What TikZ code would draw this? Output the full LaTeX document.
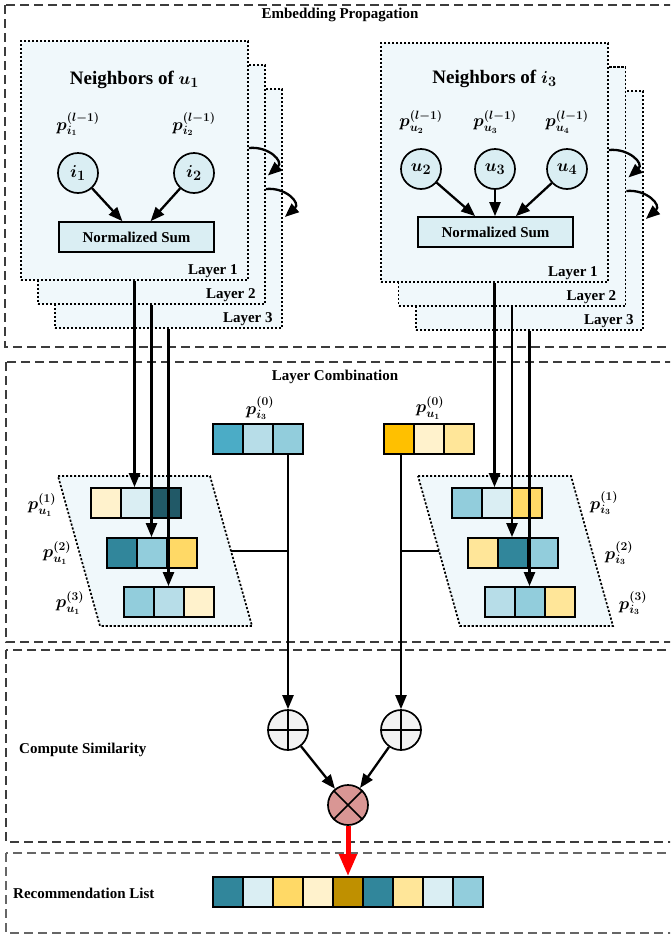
\documentclass[tikz,border=0pt]{standalone}
\usepackage{fontspec}
\setmainfont{Liberation Serif}
\usetikzlibrary{arrows.meta,calc}

\definecolor{panelbg}{RGB}{240,248,251}
\definecolor{nodebg}{RGB}{218,238,243}
\definecolor{tealD}{RGB}{33,89,103}
\definecolor{tealM}{RGB}{49,134,155}
\definecolor{blueM}{RGB}{75,172,198}
\definecolor{blueL}{RGB}{146,205,220}
\definecolor{blueP}{RGB}{183,221,232}
\definecolor{blueX}{RGB}{218,238,243}
\definecolor{goldD}{RGB}{191,144,0}
\definecolor{goldM}{RGB}{255,192,0}
\definecolor{yelM}{RGB}{255,217,102}
\definecolor{yelL}{RGB}{255,230,153}
\definecolor{yelP}{RGB}{255,242,204}
\definecolor{plusbg}{RGB}{242,242,242}
\definecolor{timesbg}{RGB}{217,150,148}
\definecolor{framegray}{RGB}{60,60,60}

\begin{document}
\begin{tikzpicture}[x=1pt,y=-1pt,
  lbl/.style={font=\bfseries\boldmath\fontsize{15}{17}\selectfont, inner sep=0pt},
  plbl/.style={font=\bfseries\boldmath\fontsize{17}{19}\selectfont, inner sep=0pt},
  ttl/.style={font=\bfseries\boldmath\fontsize{19}{21}\selectfont, inner sep=0pt},
  frame/.style={draw=framegray, line width=1.2pt, dash pattern=on 9pt off 5pt},
  layerbox/.style={draw, line width=1.7pt, dash pattern=on 2.2pt off 1.8pt, fill=panelbg,
    minimum width=227pt, minimum height=239pt, inner sep=0pt},
  para/.style={draw, line width=1.7pt, dash pattern=on 2.2pt off 1.8pt, fill=panelbg},
  nbr/.style={circle, draw, line width=1.7pt, fill=nodebg, minimum size=40pt, inner sep=0pt,
    font=\bfseries\boldmath\fontsize{19}{21}\selectfont},
  sumbox/.style={draw, line width=1.7pt, fill=nodebg, minimum width=155pt, minimum height=30pt,
    inner sep=0pt, font=\bfseries\fontsize{15}{17}\selectfont},
  cell/.style={draw, line width=1.8pt, minimum size=30pt, inner sep=0pt},
  op/.style={circle, draw, line width=1.7pt, minimum size=40pt, inner sep=0pt},
  conn/.style={line width=2.3pt},
  arr/.style={line width=2.3pt, -{Triangle[length=14pt,width=11pt]}},
  redarr/.style={red, line width=5pt, -{Triangle[length=22pt,width=17pt]}}]

\useasboundingbox (0,0) rectangle (670,940);
\clip (0,0) rectangle (670,940);

% frames of the four stages
\draw[frame] (5,5) rectangle (690,347);
\draw[frame] (6,362) rectangle (690,642);
\draw[frame] (6,650) rectangle (690,842);
\draw[frame, draw=black!60] (6,853) rectangle (690,933);

\node[lbl] (tEP) at (340,15) {Embedding Propagation};
\node[lbl] (tLC) at (335,377) {Layer Combination};
\node[lbl, anchor=west] (tCS) at (19,750) {Compute Similarity};
\node[lbl, anchor=west] (tRL) at (13,893) {Recommendation List};

% layer stacks, user side
\node[layerbox] (lay3L) at (168.5,208.5) {};
\node[layerbox] (lay2L) at (151.5,184.5) {};
\node[layerbox] (lay1L) at (134.5,160.5) {};
\node[lbl, anchor=base east] (n3L) at ($(lay3L.south east)+(-10,-6)$) {Layer 3};
\node[lbl, anchor=base east] (n2L) at ($(lay2L.south east)+(-10,-6)$) {Layer 2};
\node[lbl, anchor=base east] (n1L) at ($(lay1L.south east)+(-11,-6)$) {Layer 1};

\node[ttl] (hL) at (134.5,80) {Neighbors of $u_1$};
\node[plbl] (pi1) at (78,124) {$p_{i_1}^{(l-1)}$};
\node[plbl] (pi2) at (194,124) {$p_{i_2}^{(l-1)}$};
\node[nbr] (i1) at (78,173) {$i_1$};
\node[nbr] (i2) at (194,173) {$i_2$};
\node[sumbox] (sumL) at (136.5,237) {Normalized Sum};
\draw[arr] (i1) -- ($(sumL.north west)!0.41!(sumL.north east)$);
\draw[arr] (i2) -- ($(sumL.north west)!0.59!(sumL.north east)$);

\draw[arr] ($(lay1L.east)+(0,-12.5)$) .. controls +(20,-2) and +(16,-14) .. ($(lay2L.east)+(2,-9)$);
\draw[arr] ($(lay2L.east)+(0,4.5)$) .. controls +(20,-2) and +(16,-14) .. ($(lay3L.east)+(2,8.5)$);

% layer stacks, item side
\node[layerbox] (lay3R) at (529.5,210.5) {};
\node[layerbox] (lay2R) at (512,186.5) {};
\node[layerbox] (lay1R) at (494.5,162.5) {};
\node[lbl, anchor=base east] (n3R) at ($(lay3R.south east)+(-10,-6)$) {Layer 3};
\node[lbl, anchor=base east] (n2R) at ($(lay2R.south east)+(-10,-6)$) {Layer 2};
\node[lbl, anchor=base east] (n1R) at ($(lay1R.south east)+(-11,-6)$) {Layer 1};

\node[ttl] (hR) at (494.5,79) {Neighbors of $i_3$};
\node[plbl] (pu2) at (421,122) {$p_{u_2}^{(l-1)}$};
\node[plbl] (pu3) at (495,122) {$p_{u_3}^{(l-1)}$};
\node[plbl] (pu4) at (567,122) {$p_{u_4}^{(l-1)}$};
\node[nbr] (u2) at (421,169) {$u_2$};
\node[nbr] (u3) at (495,169) {$u_3$};
\node[nbr] (u4) at (567,169) {$u_4$};
\node[sumbox] (sumR) at (495.5,232) {Normalized Sum};
\draw[arr] (u2) -- ($(sumR.north west)!0.37!(sumR.north east)$);
\draw[arr] (u3) -- (sumR.north -| u3);
\draw[arr] (u4) -- ($(sumR.north west)!0.63!(sumR.north east)$);

\draw[arr] ($(lay1R.east)+(0,-12.5)$) .. controls +(20,-2) and +(16,-14) .. ($(lay2R.east)+(2,-9)$);
\draw[arr] ($(lay2R.east)+(0,4.5)$) .. controls +(20,-2) and +(16,-14) .. ($(lay3R.east)+(2,8.5)$);

% layer combination
\draw[para] (58,476) -- (210,476) -- (252,626) -- (100,626) -- cycle;
\draw[para] (418,476) -- (571,476) -- (613,626) -- (460,626) -- cycle;
\coordinate (jL) at (231,551);
\coordinate (jR) at (439,551);

\foreach \c [count=\k] in {yelP,blueX,tealD}
  \node[cell, fill=\c] (L1c\k) at (76+30*\k,503) {};
\foreach \c [count=\k] in {tealM,blueL,yelM}
  \node[cell, fill=\c] (L2c\k) at (92+30*\k,553) {};
\foreach \c [count=\k] in {blueL,blueP,yelP}
  \node[cell, fill=\c] (L3c\k) at (109+30*\k,602) {};
\foreach \c [count=\k] in {blueL,blueX,yelM}
  \node[cell, fill=\c] (R1c\k) at (437+30*\k,503) {};
\foreach \c [count=\k] in {yelL,tealM,blueL}
  \node[cell, fill=\c] (R2c\k) at (453+30*\k,553) {};
\foreach \c [count=\k] in {blueP,blueL,yelL}
  \node[cell, fill=\c] (R3c\k) at (470+30*\k,602) {};
\foreach \c [count=\k] in {blueM,blueP,blueL}
  \node[cell, fill=\c] (I0c\k) at (198+30*\k,439) {};
\foreach \c [count=\k] in {goldM,yelP,yelL}
  \node[cell, fill=\c] (U0c\k) at (369+30*\k,439) {};

\node[plbl] (pu1a) at (42,505) {$p_{u_1}^{(1)}$};
\node[plbl] (pu1b) at (57,553) {$p_{u_1}^{(2)}$};
\node[plbl] (pu1c) at (70,603) {$p_{u_1}^{(3)}$};
\node[plbl] (pi3a) at (604,503) {$p_{i_3}^{(1)}$};
\node[plbl] (pi3b) at (619,553) {$p_{i_3}^{(2)}$};
\node[plbl] (pi3c) at (633,603) {$p_{i_3}^{(3)}$};
\node[plbl] (pi3z) at (260,408) {$p_{i_3}^{(0)}$};
\node[plbl] (pu1z) at (430,408) {$p_{u_1}^{(0)}$};

\draw[arr] (lay1L.south) -- (lay1L.south |- L1c1.north);
\draw[arr] (lay2L.south) -- (lay2L.south |- L2c1.north);
\draw[arr] (lay3L.south) -- (lay3L.south |- L3c1.north);
\draw[arr] (lay1R.south) -- (lay1R.south |- R1c1.north);
\draw[arr] (lay2R.south) -- (lay2R.south |- R2c1.north);
\draw[arr] (lay3R.south) -- (lay3R.south |- R3c1.north);

% compute similarity
\node[op, fill=plusbg] (plusL) at (288,730) {};
\node[op, fill=plusbg] (plusR) at (401,730) {};
\node[op, fill=timesbg] (times) at (348,805) {};
\draw[line width=1.7pt] (plusL.north) -- (plusL.south) (plusL.west) -- (plusL.east);
\draw[line width=1.7pt] (plusR.north) -- (plusR.south) (plusR.west) -- (plusR.east);
\draw[line width=1.7pt] (times.north west) -- (times.south east) (times.north east) -- (times.south west);

\draw[arr] (I0c3.south -| plusL) -- (plusL);
\draw[arr] (U0c1.south -| plusR) -- (plusR);
\draw[conn] (jL) -- (jL -| plusL);
\draw[conn] (jR) -- (jR -| plusR);
\draw[arr] (plusL) -- (times);
\draw[arr] (plusR) -- (times);

% recommendation list
\foreach \c [count=\k] in {tealM,blueX,yelM,yelP,goldD,tealM,yelL,blueX,blueL}
  \node[cell, fill=\c] (rec\k) at (198+30*\k,892) {};
\draw[redarr] (times) -- (times |- rec5.north);

\end{tikzpicture}
\end{document}
